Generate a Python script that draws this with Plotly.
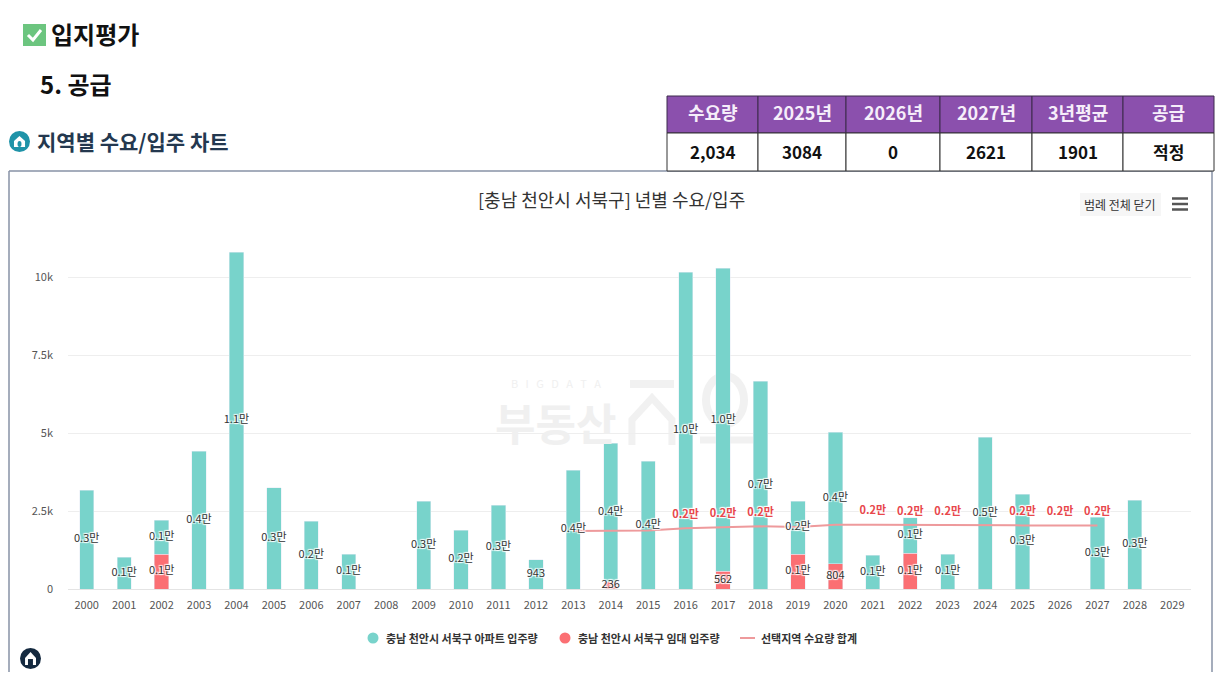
import plotly.graph_objects as go

years = [str(y) for y in range(2000, 2030)]
apt_total = [3170, 1020, 2210, 4420, 10800, 3240, 2180, 1120, 0, 2820, 1890, 2690, 943, 3810, 4680,
             4100, 10160, 10290, 6670, 2820, 5030, 1090, 2280, 1120, 4870, 3040, 0, 2300, 2850, 0]
rent = [0, 0, 1120, 0, 0, 0, 0, 0, 0, 0, 0, 0, 0, 0, 236,
        0, 0, 562, 0, 1120, 804, 0, 1150, 0, 0, 0, 0, 0, 0, 0]
apt = [a - r for a, r in zip(apt_total, rent)]
apt_labels = ["0.3만", "0.1만", "0.1만", "0.4만", "1.1만", "0.3만", "0.2만", "0.1만", "", "0.3만", "0.2만", "0.3만", "943", "0.4만", "0.4만",
              "0.4만", "1.0만", "1.0만", "0.7만", "0.2만", "0.4만", "0.1만", "0.1만", "0.1만", "0.5만", "0.3만", "", "0.3만", "0.3만", ""]
rent_labels = ["", "", "0.1만", "", "", "", "", "", "", "", "", "", "", "", "236",
               "", "", "562", "", "0.1만", "804", "", "0.1만", "", "", "", "", "", "", ""]
demand_years = years[13:28]
demand = [1860, 1860, 1880, 1950, 1990, 2010, 1990, 2060, 2060, 2050, 2050, 2050, 2040, 2040, 2034]
demand_labels = ["", "", "", "0.2만", "0.2만", "0.2만", "", "", "0.2만", "0.2만", "0.2만", "", "0.2만", "0.2만", "0.2만"]
y_ticks = [0, 2500, 5000, 7500, 10000]
y_ticktext = ["0", "2.5k", "5k", "7.5k", "10k"]

table_head = ["수요량", "2025년", "2026년", "2027년", "3년평균", "공급"]
table_row = ["2,034", "3084", "0", "2621", "1901", "적정"]
table_edges = [667, 758, 846, 940, 1032, 1123, 1214]

W, H = 1216, 684
FONT = "Noto Sans CJK KR"
TEAL = "#78d3cb"
RED = "#fb6f73"
LINE = "#ee9a9c"
LABEL_LIFT = 420  # demand labels float above the line


def xp(x):
    return x / W


def yp(y):
    return 1 - y / H


def box_path(pts, close=True):
    s = "M " + " L ".join(f"{xp(a):.4f},{yp(b):.4f}" for a, b in pts)
    return s + (" Z" if close else "")


def seg(x0, y0, x1, y1, color, width, layer="above"):
    return dict(type="line", xref="paper", yref="paper", x0=xp(x0), y0=yp(y0), x1=xp(x1), y1=yp(y1),
                line=dict(color=color, width=width), layer=layer)


def disc(x0, y0, x1, y1, color, layer="above"):
    return dict(type="circle", xref="paper", yref="paper", x0=xp(x0), y0=yp(y0), x1=xp(x1), y1=yp(y1),
                fillcolor=color, line=dict(width=0), layer=layer)


def block(x0, y0, x1, y1, color, layer="above", line=None):
    return dict(type="rect", xref="paper", yref="paper", x0=xp(x0), y0=yp(y0), x1=xp(x1), y1=yp(y1),
                fillcolor=color, line=line or dict(width=0), layer=layer)


def path(pts, fill=None, line=None, width=0, close=True, layer="above"):
    return dict(type="path", xref="paper", yref="paper", path=box_path(pts, close), fillcolor=fill,
                line=dict(color=line, width=width), layer=layer)


def note(x, y, text, size, color="#111111", anchor="left"):
    return dict(xref="paper", yref="paper", x=xp(x), y=yp(y), text=text, showarrow=False, xanchor=anchor, yanchor="middle",
                font=dict(size=size, color=color, family=FONT))


label_shadow = "1px 1px 1px #fff, -1px -1px 1px #fff, 1px -1px 1px #fff, -1px 1px 1px #fff"
fig = go.Figure()
fig.add_trace(go.Bar(x=years, y=[v if v else None for v in rent], marker_color=RED, showlegend=False, hoverinfo="skip"))
fig.add_trace(go.Bar(x=years, y=[v if v else None for v in apt], marker_color=TEAL, showlegend=False, hoverinfo="skip"))
fig.add_trace(go.Scatter(x=demand_years, y=demand, mode="lines", line=dict(color=LINE, width=2), showlegend=False, hoverinfo="skip"))
fig.add_trace(go.Scatter(x=demand_years, y=[d + LABEL_LIFT for d in demand], mode="text", text=demand_labels, showlegend=False, hoverinfo="skip",
                         textfont=dict(size=11, color="#e8474c", family=FONT, weight=700, shadow=label_shadow)))
fig.add_trace(go.Scatter(x=years, y=[r + a / 2 for r, a in zip(rent, apt)], mode="text", text=apt_labels, showlegend=False,
                         hoverinfo="skip", textfont=dict(size=11, color="#333333", family=FONT, shadow=label_shadow)))
fig.add_trace(go.Scatter(x=years, y=[r / 2 for r in rent], mode="text", text=rent_labels, showlegend=False,
                         hoverinfo="skip", textfont=dict(size=11, color="#333333", family=FONT, shadow=label_shadow)))

shapes = [
    # chart frame, no bottom edge in the crop
    seg(9, 171, 1212, 171, "#8792a6", 1.5),
    seg(9, 171, 9, 672, "#8792a6", 1.5),
    seg(1212, 171, 1212, 672, "#8792a6", 1.5),
    # check icon
    block(23, 24, 46, 46, "#6cc57f"),
    path([(28, 35), (33, 40), (41, 30)], line="white", width=3, close=False),
    # section icon
    disc(9, 131, 30, 152, "#1f93a8"),
    path([(14, 141), (19.5, 136), (25, 141), (25, 147), (14, 147)], fill="white"),
    disc(17.5, 141, 21.5, 147, "#1f93a8"),
    # hamburger menu
    seg(1172, 198.5, 1188, 198.5, "#555555", 2.5),
    seg(1172, 204, 1188, 204, "#555555", 2.5),
    seg(1172, 209.5, 1188, 209.5, "#555555", 2.5),
    # button behind the legend toggle
    block(1080, 193, 1161, 216, "#f6f6f6", "below"),
    # bottom logo
    disc(20, 648, 41, 669, "#14293f"),
    path([(25, 658), (30.5, 652), (36, 658), (36, 665), (25, 665)], fill="white"),
    path([(28, 665), (28, 659), (33, 659), (33, 665)], fill="#14293f"),
    # watermark house
    block(630, 380, 674, 388, "#f1f1f1", "below"),
    path([(632, 445), (632, 420), (652, 398), (672, 420), (672, 445)], line="#f1f1f1", width=7, close=False, layer="below"),
    dict(type="circle", xref="paper", yref="paper", x0=xp(706), y0=yp(376), x1=xp(744), y1=yp(424), line=dict(color="#f1f1f1", width=8), layer="below"),
    seg(700, 440, 760, 440, "#f1f1f1", 7, "below"),
    # legend marks
    disc(367.5, 632.5, 378.5, 643.5, TEAL),
    disc(559.5, 632.5, 570.5, 643.5, RED),
    seg(740, 638, 755, 638, LINE, 2),
]

annotations = [
    note(49, 33, "<b>입지평가</b>", 24),
    note(38, 83.5, "<b>5. 공급</b>", 24),
    note(35, 141, "<b>지역별 수요/입주 차트</b>", 21, "#24384f"),
    note(611, 199, "[충남 천안시 서북구] 년별 수요/입주", 18, "#333333", "center"),
    note(1120, 204, "범례 전체 닫기", 12, "#333333", "center"),
    note(556, 383, "B   I   G   D   A   T   A", 11, "#f0f0f0", "center"),
    note(555, 422, "<b>부동산</b>", 44, "#f0f0f0", "center"),
    note(384, 637.5, "<b>충남 천안시 서북구 아파트 입주량</b>", 11, "#333333"),
    note(576, 637.5, "<b>충남 천안시 서북구 임대 입주량</b>", 11, "#333333"),
    note(759, 637.5, "<b>선택지역 수요량 합계</b>", 11, "#333333"),
]

# supply table on top of the chart
for i, head in enumerate(table_head):
    x0, x1 = table_edges[i], table_edges[i + 1]
    shapes.append(block(x0, 96, x1, 133, "#8b50ad", line=dict(color="#3d2a4d", width=1)))
    shapes.append(block(x0, 133, x1, 171, "white", line=dict(color="#333333", width=1)))
    annotations.append(note((x0 + x1) / 2, 112, f"<b>{head}</b>", 18, "#f6eefa", "center"))
    annotations.append(note((x0 + x1) / 2, 151, f"<b>{table_row[i]}</b>", 17, "#111111", "center"))

fig.update_layout(
    width=W, height=H, margin=dict(l=0, r=0, t=0, b=0, autoexpand=False), paper_bgcolor="white", plot_bgcolor="white",
    barmode="stack", bargap=0.62, font=dict(family=FONT), shapes=shapes, annotations=annotations, showlegend=False,
)
fig.update_xaxes(type="category", domain=[xp(68), xp(1191)], range=[-0.5, 29.5], anchor="y", showgrid=False,
                 showline=True, linecolor="#e4e4e4", linewidth=1, ticks="", ticklabelstandoff=6,
                 tickfont=dict(size=11, color="#555555", family=FONT))
fig.update_yaxes(domain=[yp(589), yp(246)], range=[0, 11000], tickvals=y_ticks, ticktext=y_ticktext, showgrid=True,
                 gridcolor="#eeeeee", zeroline=False, ticks="", ticklabelstandoff=14,
                 tickfont=dict(size=11, color="#555555", family=FONT))

fig.write_html("out.html", config=dict(displayModeBar=False), post_script="document.body.style.margin='0';")
